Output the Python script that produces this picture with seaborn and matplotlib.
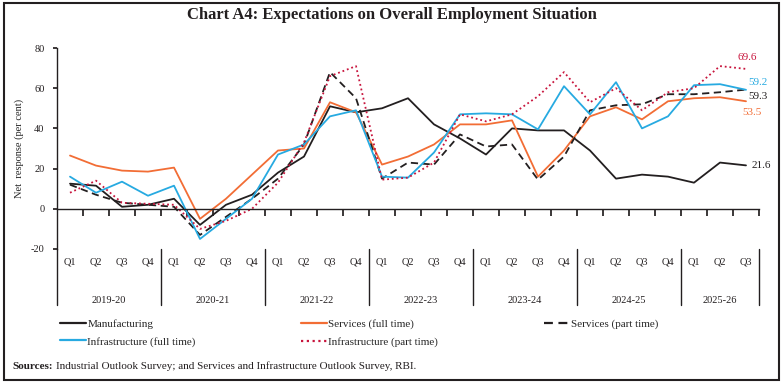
import numpy as np
import pandas as pd
import seaborn as sns
import matplotlib.pyplot as plt
from matplotlib.patches import Rectangle
from matplotlib.lines import Line2D
import matplotlib.transforms as mtransforms

# Data (net response, per cent)
years = ["2019-20", "2020-21", "2021-22", "2022-23", "2023-24", "2024-25", "2025-26"]
quarters_per_year = [4, 4, 4, 4, 4, 4, 3]

manufacturing = [12.5, 11.5, 1, 2, 5, -8, 2, 7, 18, 26, 51, 48, 50, 55, 42, 35,
                 27, 40, 39, 39, 29, 15, 17, 16, 13, 23, 21.6]
services_full = [26.5, 21.5, 19, 18.5, 20.5, -5, 5, 17, 29, 30, 53, 48, 22, 26, 32, 42,
                 42, 44, 16, 29, 46, 50.5, 44.5, 53.5, 55, 55.5, 53.5]
services_part = [12, 7, 3, 2, 1, -13, -4, 5, 15, 32, 68, 55, 15, 23, 22, 37,
                 31, 32, 14.5, 26, 49, 51.5, 52, 57, 57, 58, 59.3]
infra_full = [16, 8, 13.5, 6.5, 11.5, -15, -5, 5, 27, 32, 46, 49, 16, 15.5, 28, 47,
              47.5, 47, 39.5, 61, 47, 63, 40, 46, 61.5, 62, 59.2]
infra_part = [8, 14, 3, 2.5, 2, -10, -6, 0, 13, 33, 66, 71, 14.5, 15.5, 23, 47,
              43.5, 47, 56, 68, 53, 60, 49, 58, 60, 71, 69.6]

quarter_labels = [f"Q{q + 1}" for n in quarters_per_year for q in range(n)]
idx = np.arange(len(quarter_labels))

series = {
    "Manufacturing": manufacturing,
    "Services (full time)": services_full,
    "Services (part time)": services_part,
    "Infrastructure (full time)": infra_full,
    "Infrastructure (part time)": infra_part,
}
colors = {
    "Manufacturing": "#231f20",
    "Services (full time)": "#f26d35",
    "Services (part time)": "#231f20",
    "Infrastructure (full time)": "#27aae1",
    "Infrastructure (part time)": "#c8143c",
}
styles = {
    "Manufacturing": "-",
    "Services (full time)": "-",
    "Services (part time)": (0, (4, 2.5)),
    "Infrastructure (full time)": "-",
    "Infrastructure (part time)": (0, (1, 1.6)),
}
# offsets (points) for the end-value labels
end_labels = {
    "Manufacturing": (4, 0),
    "Services (full time)": (-3, -8),
    "Services (part time)": (2, -5),
    "Infrastructure (full time)": (2, 5),
    "Infrastructure (part time)": (-6, 8),
}

sns.set_theme(style="white")
plt.rcParams["font.family"] = ["Liberation Serif", "DejaVu Serif"]
plt.rcParams["axes.unicode_minus"] = False

W, H = 784, 385
fig = plt.figure(figsize=(W / 100, H / 100), dpi=100)
fig.patch.set_facecolor("white")

# plot area in pixels
x0, x1, y_top, y_bot = 57, 759, 48, 249
ax = fig.add_axes([x0 / W, 1 - y_bot / H, (x1 - x0) / W, (y_bot - y_top) / H])

for name, vals in series.items():
    sns.lineplot(x=idx, y=vals, ax=ax, color=colors[name], linestyle=styles[name],
                 linewidth=1.3, label=name, legend=False)
    dx, dy = end_labels[name]
    ax.annotate(f"{vals[-1]:.1f}", xy=(idx[-1], vals[-1]), xytext=(dx, dy),
                textcoords="offset points", ha="left", va="center", fontsize=8,
                color=colors[name])

ax.set_xlim(-0.5, len(idx) - 0.5)
ax.set_ylim(-20, 80)
ax.set_yticks([-20, 0, 20, 40, 60, 80])
ax.tick_params(axis="y", labelsize=7.5, length=3, direction="out", left=True, pad=6,
               colors="#231f20")
ax.set_ylabel("Net  response (per cent)", fontsize=7.5, labelpad=5)

for s in ["top", "right"]:
    ax.spines[s].set_visible(False)
ax.spines["left"].set_color("#231f20")
ax.spines["left"].set_linewidth(1)
ax.spines["bottom"].set_position(("data", 0))
ax.spines["bottom"].set_color("#231f20")
ax.spines["bottom"].set_linewidth(1)
ax.set_xticks(np.arange(0.5, len(idx) - 0.4, 1.0))
ax.tick_params(axis="x", bottom=True, length=5, direction="out", labelbottom=False,
               colors="#231f20")

# quarter and fiscal-year labels under the plot
trans = mtransforms.blended_transform_factory(ax.transData, ax.transAxes)
for i, q in zip(idx, quarter_labels):
    ax.text(i, -0.065, q, transform=trans, ha="center", va="center", fontsize=7.5,
            color="#231f20")
bounds = np.concatenate([[0], np.cumsum(quarters_per_year)]) - 0.5
for b in bounds:
    ax.plot([b, b], [0, -0.28], transform=trans, color="#231f20", lw=1, clip_on=False)
for y, a, b in zip(years, bounds[:-1], bounds[1:]):
    ax.text((a + b) / 2, -0.255, y, transform=trans, ha="center", va="center",
            fontsize=7.5, color="#231f20")

# legend
handles = {name: Line2D([], [], color=colors[name], linestyle=styles[name], lw=1.6)
           for name in series}
order = ["Manufacturing", "Infrastructure (full time)", "Services (full time)",
         "Infrastructure (part time)", "Services (part time)"]
fig.legend([handles[n] for n in order], order, ncol=3, loc="upper left",
           bbox_to_anchor=(60 / W, 1 - 319 / H), frameon=False, fontsize=8,
           handlelength=2.3, handletextpad=0.15, columnspacing=9.5, labelspacing=0.7,
           borderaxespad=0, borderpad=0)

fig.text(0.5, 1 - 15 / H, "Chart A4: Expectations on Overall Employment Situation",
         ha="center", va="center", fontsize=12, fontweight="bold", color="#231f20")

src_bold = fig.text(12 / W, 1 - 369 / H, "Sources:", ha="left", va="baseline",
                    fontsize=8, fontweight="bold", color="#231f20")
fig.canvas.draw()
bb = src_bold.get_window_extent()
fig.text((bb.x1 + 3) / W, 1 - 369 / H,
         "Industrial Outlook Survey; and Services and Infrastructure Outlook Survey, RBI.",
         ha="left", va="baseline", fontsize=8, color="#231f20")

fig.patches.append(Rectangle((4 / W, 1 - 380 / H), 775 / W, 377 / H, transform=fig.transFigure,
                             fill=False, lw=1.5, edgecolor="#231f20"))

fig.savefig("out.png", dpi=100, facecolor="white")
